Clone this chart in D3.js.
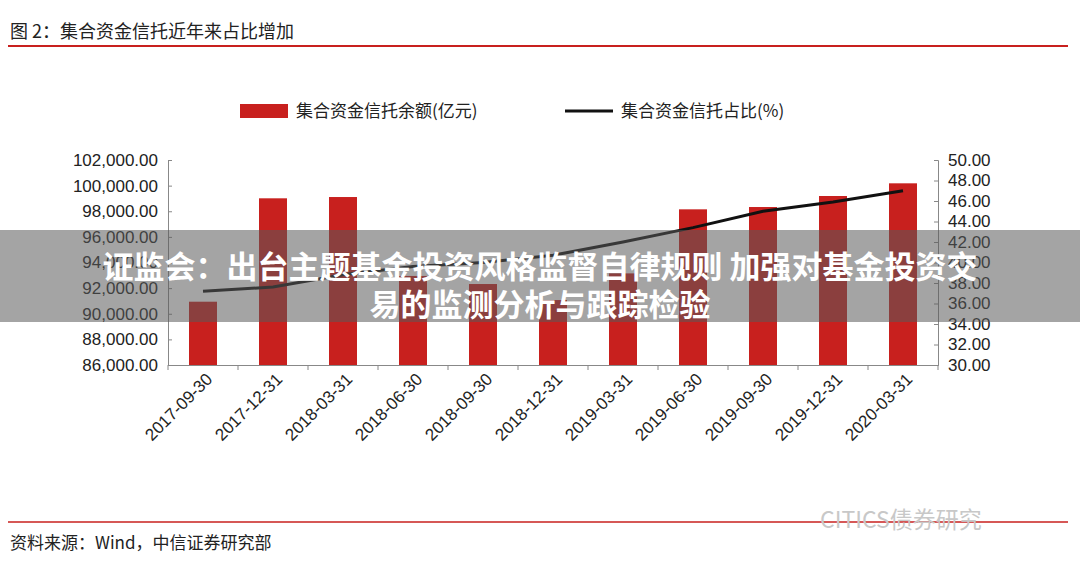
<!DOCTYPE html>
<html><head><meta charset="utf-8">
<script src="https://cdn.jsdelivr.net/npm/d3@7"></script>
<style>body{margin:0;background:#fff}svg{display:block;font-family:"Noto Sans CJK SC","Liberation Sans",sans-serif}</style>
</head><body><svg id="c" width="1080" height="567"></svg>
<script>
const dates = ['2017-09-30','2017-12-31','2018-03-31','2018-06-30','2018-09-30','2018-12-31','2019-03-31','2019-06-30','2019-09-30','2019-12-31','2020-03-31'];
const balance = [90940, 99010, 99110, 92950, 92320, 91070, 93150, 98150, 98330, 99190, 100180];
const share = [37.2, 37.6, 38.8, 39.6, 40.0, 40.7, 42.0, 43.4, 45.0, 45.9, 47.0];
const leftTicks = d3.range(86000, 102001, 2000);
const rightTicks = d3.range(30, 50.01, 2);

const svg = d3.select('#c');
const red = '#c8201e';
const m = {l: 168, r: 938, t: 160, b: 365};

const x = d3.scaleBand().domain(dates).range([m.l, m.r]).paddingInner(0.6).paddingOuter(0.3);
const yL = d3.scaleLinear().domain([86000, 102000]).range([m.b, m.t]);
const yR = d3.scaleLinear().domain([30, 50]).range([m.b, m.t]);

// title + rules
svg.append('text').attr('x', 10).attr('y', 38).attr('font-size', 18).attr('fill', '#222').text('图 2：集合资金信托近年来占比增加');
svg.append('line').attr('x1', 8).attr('x2', 1068).attr('y1', 46).attr('y2', 46).attr('stroke', red).attr('stroke-width', 2);
svg.append('line').attr('x1', 8).attr('x2', 1068).attr('y1', 522).attr('y2', 522).attr('stroke', red).attr('stroke-width', 1.5);
svg.append('text').attr('x', 10).attr('y', 549).attr('font-size', 17).attr('fill', '#222').text('资料来源：Wind，中信证券研究部');

// bars
svg.append('g').selectAll('rect').data(balance).enter().append('rect')
  .attr('x', (_, i) => x(dates[i]))
  .attr('y', d => yL(d))
  .attr('width', x.bandwidth())
  .attr('height', d => m.b - yL(d))
  .attr('fill', red);

// line
svg.append('path').datum(share)
  .attr('fill', 'none').attr('stroke', '#111').attr('stroke-width', 3)
  .attr('d', d3.line().x((_, i) => x(dates[i]) + x.bandwidth() / 2).y(d => yR(d)));

// axes
const fmt = d3.format(',.2f');
const gl = svg.append('g').attr('transform', `translate(${m.l},0)`)
  .call(d3.axisLeft(yL).tickValues(leftTicks).tickFormat(fmt).tickSize(-4).tickPadding(10));
const gr = svg.append('g').attr('transform', `translate(${m.r},0)`)
  .call(d3.axisRight(yR).tickValues(rightTicks).tickFormat(d3.format('.2f')).tickSize(-4).tickPadding(10));
const gx = svg.append('g').attr('transform', `translate(0,${m.b})`)
  .call(d3.axisBottom(x).tickSize(0).tickPadding(8));
gx.selectAll('text').attr('transform', 'rotate(-45)').attr('text-anchor', 'end').attr('dx', '-0.2em').attr('dy', '0.6em');
// category boundary ticks
gx.selectAll('.bt').data(d3.range(dates.length + 1)).enter().append('line')
  .attr('x1', i => m.l + i * (m.r - m.l) / dates.length).attr('x2', i => m.l + i * (m.r - m.l) / dates.length)
  .attr('y1', 0).attr('y2', 5).attr('stroke', '#888');
[gl, gr, gx].forEach(g => {
  g.selectAll('path.domain').attr('stroke', '#888');
  g.selectAll('.tick line').attr('stroke', '#888');
  g.selectAll('text').attr('font-size', 17).attr('fill', '#222').attr('font-family', '"Liberation Sans",sans-serif');
});

// legend
const lg = svg.append('g').attr('font-size', 17).attr('fill', '#222');
lg.append('rect').attr('x', 240).attr('y', 104).attr('width', 48).attr('height', 14).attr('fill', red);
lg.append('text').attr('x', 296).attr('y', 117).text('集合资金信托余额(亿元)');
lg.append('line').attr('x1', 565).attr('x2', 613).attr('y1', 111).attr('y2', 111).attr('stroke', '#111').attr('stroke-width', 3);
lg.append('text').attr('x', 621).attr('y', 117).text('集合资金信托占比(%)');

// watermark
svg.append('text').attr('x', 820).attr('y', 528).attr('font-size', 23).attr('fill', '#c8c8c8').text('CITICS债券研究');

// banner overlay
svg.append('rect').attr('x', 0).attr('y', 230).attr('width', 1080).attr('height', 92).attr('fill', 'rgba(90,90,90,0.55)');
const bn = svg.append('g').attr('font-size', 31).attr('font-weight', 'bold').attr('fill', '#fff').attr('text-anchor', 'middle');
bn.append('text').attr('x', 540).attr('y', 278).text('证监会：出台主题基金投资风格监督自律规则 加强对基金投资交');
bn.append('text').attr('x', 540).attr('y', 316).text('易的监测分析与跟踪检验');
</script></body></html>
